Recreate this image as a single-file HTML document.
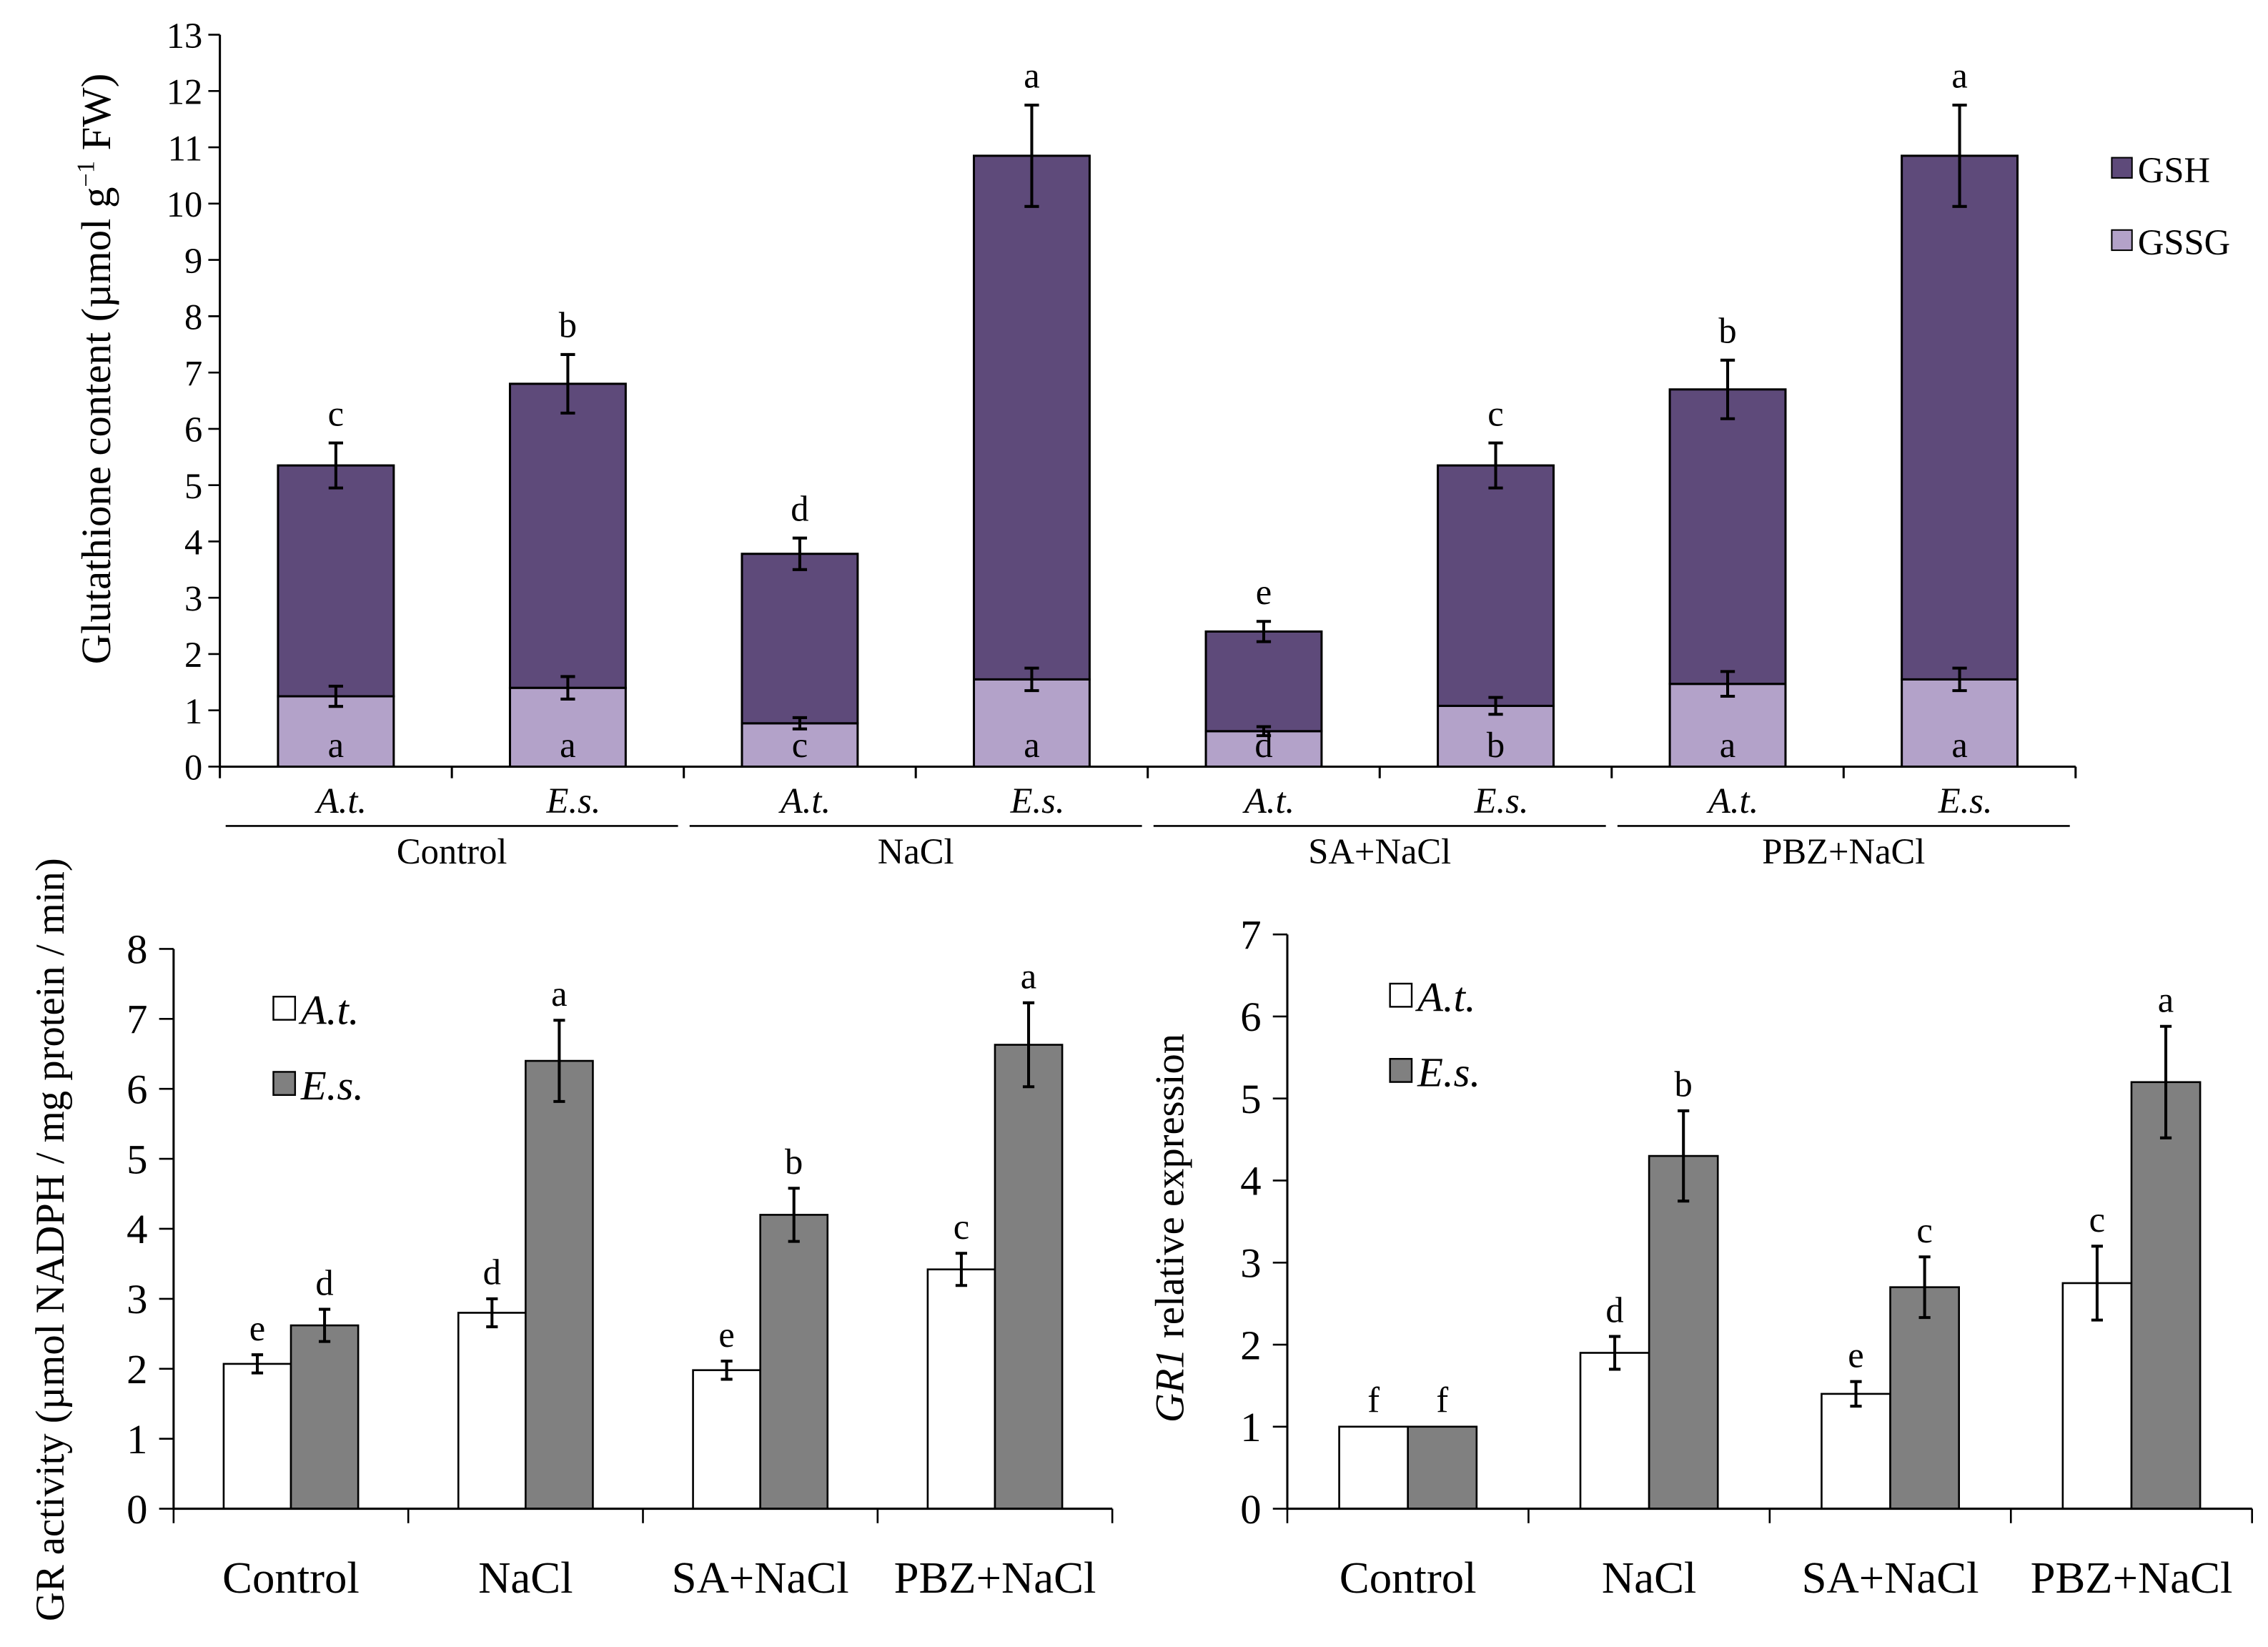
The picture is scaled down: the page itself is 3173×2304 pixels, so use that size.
<!DOCTYPE html>
<html><head><meta charset="utf-8"><style>html,body{margin:0;padding:0;background:#fff}svg{display:block}text{font-family:"Liberation Serif",serif;fill:#000}</style></head>
<body>
<svg id="fig" width="3173" height="2304" viewBox="0 0 1568 1138.6" xmlns="http://www.w3.org/2000/svg"></svg>
<script>
// ---- Top chart data ----
const topCats = ["A.t.","E.s.","A.t.","E.s.","A.t.","E.s.","A.t.","E.s."];
const topGroups = ["Control","NaCl","SA+NaCl","PBZ+NaCl"];
const gssg = [1.25,1.4,0.77,1.55,0.63,1.08,1.47,1.55];
const gssgErr = [0.18,0.2,0.1,0.2,0.08,0.15,0.22,0.2];
const total = [5.35,6.8,3.78,10.85,2.4,5.35,6.7,10.85];
const totalErr = [0.4,0.52,0.28,0.9,0.18,0.4,0.52,0.9];
const topLetters = ["c","b","d","a","e","c","b","a"];
const botLetters = ["a","a","c","a","d","b","a","a"];
const topTicks = [0,1,2,3,4,5,6,7,8,9,10,11,12,13];
// ---- GR activity ----
const grGroups = ["Control","NaCl","SA+NaCl","PBZ+NaCl"];
const grAt = [2.07,2.8,1.98,3.42];
const grAtErr = [0.13,0.2,0.13,0.23];
const grEs = [2.62,6.4,4.2,6.63];
const grEsErr = [0.23,0.58,0.38,0.6];
const grAtLet = ["e","d","e","c"];
const grEsLet = ["d","a","b","a"];
const grTicks = [0,1,2,3,4,5,6,7,8];
// ---- GR1 expression ----
const exAt = [1,1.9,1.4,2.75];
const exAtErr = [0,0.2,0.15,0.45];
const exEs = [1,4.3,2.7,5.2];
const exEsErr = [0,0.55,0.37,0.68];
const exAtLet = ["f","d","e","c"];
const exEsLet = ["f","b","c","a"];
const exTicks = [0,1,2,3,4,5,6,7];

const svg=document.getElementById('fig');
const NS="http://www.w3.org/2000/svg";
function el(tag,attrs,parent){const e=document.createElementNS(NS,tag);for(const k in attrs)e.setAttribute(k,attrs[k]);(parent||svg).appendChild(e);return e;}
function txt(s,x,y,size,opts,parent){const t=el('text',Object.assign({x:x,y:y,'font-size':size,'text-anchor':'middle'},opts||{}),parent);t.textContent=s;return t;}
function errBar(g,x,yv,e,yf,cap){if(e<=0)return;el('line',{x1:x,x2:x,y1:yf(yv+e),y2:yf(yv-e),stroke:'#000','stroke-width':2},g);
 el('line',{x1:x-cap,x2:x+cap,y1:yf(yv+e),y2:yf(yv+e),stroke:'#000','stroke-width':2},g);
 el('line',{x1:x-cap,x2:x+cap,y1:yf(yv-e),y2:yf(yv-e),stroke:'#000','stroke-width':2},g);}

// ===== TOP CHART =====
(function(){
 const g=el('g',{});
 
 
 const x0=152,x1=1435,y0=530,y13=24;
 const yf=v=>y0-(y0-y13)*v/13;
 const cw=(x1-x0)/topCats.length;
 const xc=i=>x0+cw*(i+0.5);
 const bw=80;
 topTicks.forEach(t=>{
  const tk=el('line',{x1:x0-8,x2:x0,y1:yf(t),y2:yf(t),stroke:'#000','stroke-width':1.3},g);
  
  
  const l=txt(String(t),x0-12,yf(t)+9,25,{'text-anchor':'end'},g);
  
  
 });
 topCats.forEach((c,i)=>{
  const x=xc(i);
  const r1=el('rect',{x:x-bw/2,y:yf(gssg[i]),width:bw,height:yf(0)-yf(gssg[i]),fill:'#b3a2c9',stroke:'#000','stroke-width':1.5},g);
  
  
  const r2=el('rect',{x:x-bw/2,y:yf(total[i]),width:bw,height:yf(gssg[i])-yf(total[i]),fill:'#5e4a7a',stroke:'#000','stroke-width':1.5},g);
  
  
  errBar(g,x,gssg[i],gssgErr[i],yf,5);
  errBar(g,x,total[i],totalErr[i],yf,5);
  txt(topLetters[i],x,yf(total[i]+totalErr[i])-12,25,{},g);
  txt(botLetters[i],x,yf(0.4)+9,25,{},g);
  const cl=txt(c,x+4,562,25,{'font-style':'italic'},g);
  
  
 });
 const ax=el('path',{d:`M${x0},${y13} V${y0} H${x1}`,stroke:'#000','stroke-width':1.5,fill:'none'},g);
 
 
 for(let i=0;i<=topCats.length;i++){el('line',{x1:x0+cw*i,x2:x0+cw*i,y1:y0,y2:y0+8,stroke:'#000','stroke-width':1.5},g);}
 topGroups.forEach((n,j)=>{
  const a=x0+cw*2*j, b=a+cw*2;
  el('line',{x1:a+4,x2:b-4,y1:571,y2:571,stroke:'#000','stroke-width':1.3},g);
  const gl=txt(n,(a+b)/2,597,25,{},g);
  
  
 });
 const yl=txt('',0,0,29,{transform:`translate(76,255) rotate(-90)`},g);
 yl.innerHTML='Glutathione content (µmol g<tspan font-size="17" dy="-11">−1</tspan><tspan dy="11"> FW)</tspan>';
 
 
 [['GSH','#5e4a7a',117],['GSSG','#b3a2c9',167]].forEach(([n,c,y])=>{
  const lg=el('g',{},g);
  
  
  el('rect',{x:1460,y:y-8,width:14,height:14,fill:c,stroke:'#000','stroke-width':1},lg);
  txt(n,1478,y+9,25,{'text-anchor':'start'},lg);
 });
})();

// ===== bottom charts =====
function bottomChart(name,x0,x1,y0,yTop,maxV,ticks,at,atE,es,esE,atL,esL,bw,legX,legY,titleHtml,titleX,titleY,titleSize){
 const g=el('g',{});
 
 
 const yf=v=>y0-(y0-yTop)*v/maxV;
 const gw=(x1-x0)/grGroups.length;
 ticks.forEach(t=>{
  el('line',{x1:x0-10,x2:x0,y1:yf(t),y2:yf(t),stroke:'#000','stroke-width':1.3},g);
  const l=txt(String(t),x0-18,yf(t)+10,29,{'text-anchor':'end'},g);
  
  
 });
 grGroups.forEach((n,i)=>{
  const c=x0+gw*(i+0.5);
  const r1=el('rect',{x:c-bw,y:yf(at[i]),width:bw,height:yf(0)-yf(at[i]),fill:'#fff',stroke:'#000','stroke-width':1.3},g);
  
  
  const r2=el('rect',{x:c,y:yf(es[i]),width:bw,height:yf(0)-yf(es[i]),fill:'#808080',stroke:'#000','stroke-width':1.3},g);
  
  
  errBar(g,c-bw/2,at[i],atE[i],yf,4);
  errBar(g,c+bw/2,es[i],esE[i],yf,4);
  txt(atL[i],c-bw/2,yf(at[i]+atE[i])-10,25,{},g);
  txt(esL[i],c+bw/2,yf(es[i]+esE[i])-10,25,{},g);
  const gl=txt(n,c,1101,31,{},g);
  
  
 });
 const ax=el('path',{d:`M${x0},${yTop} V${y0} H${x1}`,stroke:'#000','stroke-width':1.5,fill:'none'},g);
 
 
 for(let i=0;i<=grGroups.length;i++){el('line',{x1:x0+gw*i,x2:x0+gw*i,y1:y0,y2:y0+10,stroke:'#000','stroke-width':1.3},g);}
 [['A.t.','#fff',legY],['E.s.','#808080',legY+52]].forEach(([n,c,y])=>{
  const lg=el('g',{},g);
  
  
  el('rect',{x:legX,y:y-9,width:15,height:16,fill:c,stroke:'#000','stroke-width':1.2},lg);
  txt(n,legX+19,y+10,29,{'text-anchor':'start','font-style':'italic'},lg);
 });
 const yl=txt('',0,0,titleSize,{transform:`translate(${titleX},${titleY}) rotate(-90)`},g);
 yl.innerHTML=titleHtml;
 
 
}
bottomChart('gr-activity-chart',120,769,1043,656,8,grTicks,grAt,grAtErr,grEs,grEsErr,grAtLet,grEsLet,46.5,189,698,
 'GR activity (µmol  NADPH / mg protein / min)',44,857,28);
bottomChart('gr1-expression-chart',890,1557,1043,646,7,exTicks,exAt,exAtErr,exEs,exEsErr,exAtLet,exEsLet,47.5,961,689,
 '<tspan font-style="italic">GR1</tspan> relative expression',818,849,28);
</script>
</body></html>
